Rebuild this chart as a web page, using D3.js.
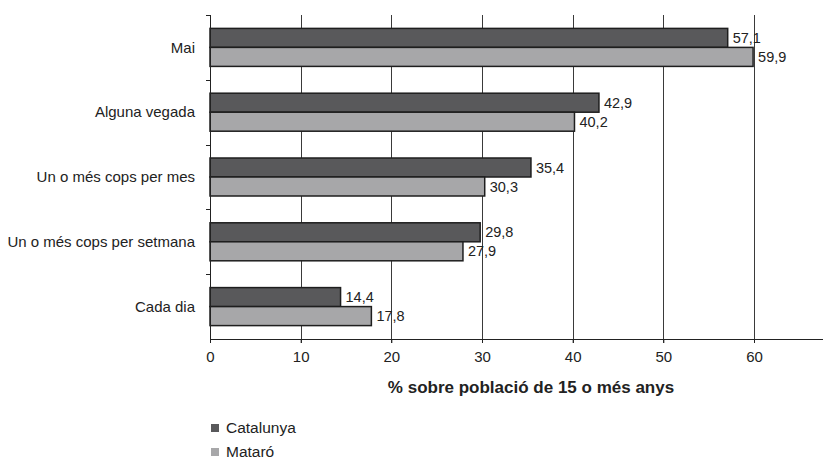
<!DOCTYPE html>
<html><head><meta charset="utf-8">
<script src="https://cdn.jsdelivr.net/npm/d3@7"></script>
<style>body{margin:0;background:#fff}svg{display:block;font-family:"Liberation Sans",Arial,sans-serif}</style>
</head><body><svg id="c" width="823" height="462"></svg>
<script>
const categories = ["Mai","Alguna vegada","Un o més cops per mes","Un o més cops per setmana","Cada dia"];
const catalunya = [57.1,42.9,35.4,29.8,14.4];
const mataro = [59.9,40.2,30.3,27.9,17.8];
const seriesNames = ["Catalunya","Mataró"];
const xTicks = [0,10,20,30,40,50,60];
const axisTitle = "% sobre població de 15 o més anys";

const colors = ["#59595b","#a7a7a9"];
const svg = d3.select("#c");
const x = d3.scaleLinear().domain([0,70]).range([210, 210 + 70*(544/60)]);
const y = d3.scaleBand().domain(categories).range([15,339]);
const barH = 19;
const fmt = v => d3.format(".1f")(v).replace(".", ",");

// gridlines
svg.append("g").selectAll("line").data(xTicks.slice(1)).join("line")
  .attr("x1", d => Math.round(x(d))+0.5).attr("x2", d => Math.round(x(d))+0.5)
  .attr("y1", 15).attr("y2", 343).attr("stroke", "#3a3a3a").attr("stroke-width", 1);

const data = [catalunya, mataro];
data.forEach((vals, si) => {
  const g = svg.append("g");
  g.selectAll("rect").data(categories).join("rect")
    .attr("x", x(0))
    .attr("y", (c) => y(c) + y.bandwidth()/2 - barH + si*barH)
    .attr("width", (c,i) => x(vals[i]) - x(0))
    .attr("height", barH)
    .attr("fill", colors[si]).attr("stroke", "#1e1e1e").attr("stroke-width", 1.5);
  g.selectAll("text").data(categories).join("text")
    .attr("x", (c,i) => x(vals[i]) + 5)
    .attr("y", c => y(c) + y.bandwidth()/2 - barH/2 + si*barH)
    .attr("dy", "0.35em").attr("font-size", 14.5).attr("fill", "#222")
    .text((c,i) => fmt(vals[i]));
});

// y axis
svg.append("line").attr("x1", 210.5).attr("x2", 210.5).attr("y1", 15).attr("y2", 343).attr("stroke", "#222");
const yb = [...categories.map(c => y(c)), 339];
svg.append("g").selectAll("line").data(yb.slice(0,5)).join("line")
  .attr("x1", 206).attr("x2", 210).attr("y1", d => Math.round(d)+0.5).attr("y2", d => Math.round(d)+0.5)
  .attr("stroke", "#222");
svg.append("g").selectAll("text").data(categories).join("text")
  .attr("x", 195).attr("y", c => y(c) + y.bandwidth()/2)
  .attr("dy", "0.35em").attr("text-anchor", "end").attr("font-size", 15).attr("fill", "#222")
  .text(c => c);

// x axis
const xa = svg.append("g").attr("transform", "translate(0,339)")
  .call(d3.axisBottom(x).tickValues(xTicks).tickSize(4).tickSizeOuter(0).tickFormat(d3.format("d")));
xa.select(".domain").attr("stroke", "#222").attr("d", "M210,0.5H823");
xa.selectAll(".tick line").attr("stroke", "#222");
xa.selectAll(".tick text").attr("font-size", 15).attr("fill", "#222").attr("y", 12).attr("font-family", "Liberation Sans, Arial, sans-serif");

svg.append("text").attr("x", 531).attr("y", 387).attr("dy", "0.35em")
  .attr("text-anchor", "middle").attr("font-size", 17).attr("font-weight", "bold").attr("fill", "#222")
  .text(axisTitle);

// legend
const lg = svg.append("g").selectAll("g").data(seriesNames).join("g")
  .attr("transform", (d,i) => `translate(211,${428 + i*24})`);
lg.append("rect").attr("x", 0).attr("y", -4).attr("width", 8).attr("height", 8).attr("fill", (d,i) => colors[i]);
lg.append("text").attr("x", 15).attr("dy", "0.35em").attr("font-size", 15.5).attr("fill", "#222").text(d => d);
</script></body></html>
